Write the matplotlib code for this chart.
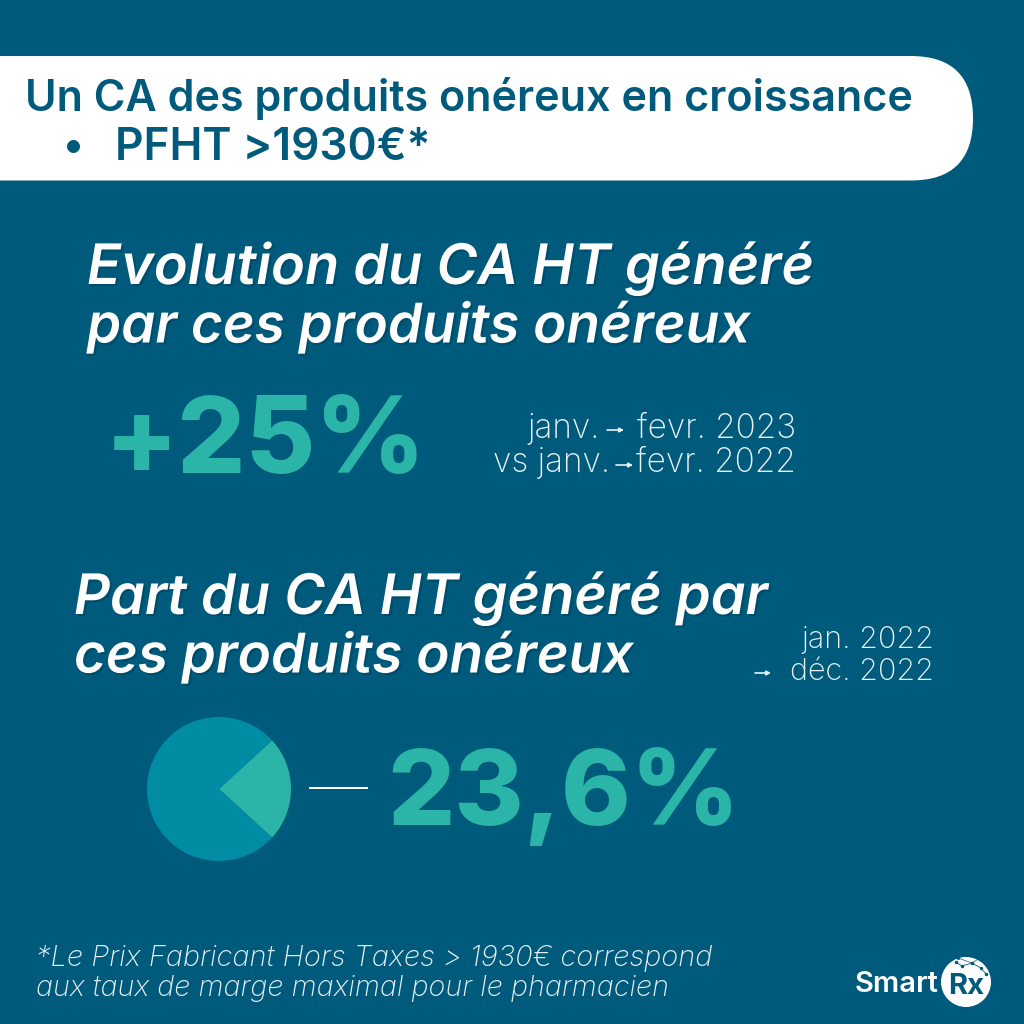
"""
Infographic card: CA des produits onereux, SmartRx
"""
import matplotlib
matplotlib.use('Agg')
import matplotlib.pyplot as plt
import matplotlib.patheffects as pe
from matplotlib.patches import FancyBboxPatch, Circle

# ── Data ─────────────────────────────────────────────────────────────────────
header_title = "Un CA des produits onéreux en croissance"
header_bullet = "PFHT >1930€*"
heading_evol = ["Evolution du CA HT généré", "par ces produits onéreux"]
heading_part = ["Part du CA HT généré par", "ces produits onéreux"]
evol_value = "+25%"
part_value = "23,6%"
pie_values = [23.6, 76.4]
footnote = ["*Le Prix Fabricant Hors Taxes > 1930€ correspond",
            "aux taux de marge maximal pour le pharmacien"]

# ── Colours ──────────────────────────────────────────────────────────────────
BG = '#005a7c'
TEAL = '#2bb5a9'
PIE_REST = '#008ca3'
LIGHT = '#e8f1f4'

plt.rcParams['font.family'] = ['Inter', 'DejaVu Sans']

fig = plt.figure(figsize=(10.24, 10.24), dpi=100, facecolor=BG)
ax = fig.add_axes([0, 0, 1, 1])
ax.set_xlim(0, 1024)
ax.set_ylim(1024, 0)
ax.axis('off')

# ── Header band ──────────────────────────────────────────────────────────────
band = FancyBboxPatch((-200, 56), 1173, 124.5, boxstyle='round,pad=0,rounding_size=62',
                      fc='white', ec='none')
ax.add_patch(band)
ax.text(25, 99, header_title, fontsize=31, fontweight='semibold', color=BG, va='center')
ax.text(63, 148, "•", fontsize=30, fontweight='semibold', color=BG, va='center')
ax.text(115, 148, header_bullet, fontsize=31.8, fontweight='semibold', color=BG, va='center')

# ── Headings ─────────────────────────────────────────────────────────────────
shadow = [pe.withSimplePatchShadow(offset=(1.5, -1.5), shadow_rgbFace='#00283c', alpha=0.25)]


def heading(x, ys, lines, sizes):
    for y, line, size in zip(ys, lines, sizes):
        ax.text(x, y, line, fontsize=size, fontweight='semibold', style='italic',
                color='white', va='center', path_effects=shadow)


heading(87, [268, 327], heading_evol, [40.2, 39.4])
heading(74, [598, 657], heading_part, [40.2, 39.4])

# ── Big numbers ──────────────────────────────────────────────────────────────
ax.text(105, 445, evol_value, fontsize=77, fontweight='heavy', color=TEAL, va='center')
ax.text(387, 797, part_value, fontsize=76, fontweight='heavy', color=TEAL, va='center')

# ── Period notes ─────────────────────────────────────────────────────────────
NOTE = dict(fontsize=24, fontweight='light', color=LIGHT, va='center')
ax.text(796, 429, "fevr. 2023", ha='right', **NOTE)
ax.text(600, 429, "janv.", ha='right', **NOTE)
ax.text(796, 463, "fevr. 2022", ha='right', **NOTE)
ax.text(610, 463, "vs janv.", ha='right', **NOTE)
ax.text(934, 640, "jan. 2022", ha='right', fontsize=22, fontweight='light', color=LIGHT, va='center')
ax.text(934, 672, "déc. 2022", ha='right', fontsize=22, fontweight='light', color=LIGHT, va='center')
for x0, x1, y in [(607, 624, 430), (616, 633, 465), (755, 771, 673)]:
    ax.annotate('', xy=(x1, y), xytext=(x0, y),
                arrowprops=dict(arrowstyle='-|>,head_width=0.13,head_length=0.25',
                                color=LIGHT, lw=1.2, shrinkA=0, shrinkB=0))

# ── Pie ──────────────────────────────────────────────────────────────────────
pie_ax = fig.add_axes([147 / 1024, 1 - 861 / 1024, 144 / 1024, 144 / 1024])
pie_ax.pie(pie_values, colors=[TEAL, PIE_REST], startangle=-pie_values[0] * 1.8, radius=1.0)
pie_ax.set_xlim(-1, 1)
pie_ax.set_ylim(-1, 1)

ax.plot([309, 368], [788, 788], color='white', lw=1.4, solid_capstyle='butt')

# ── Footnote ─────────────────────────────────────────────────────────────────
for y, line, size in zip([958, 988], footnote, [20.9, 20.7]):
    ax.text(36, y, line, fontsize=size, fontweight='light', style='italic',
            color=LIGHT, va='center')

# ── Logo ─────────────────────────────────────────────────────────────────────
ax.text(855, 985, "Smart", fontsize=21, fontweight='semibold', color='white', va='center')
ax.add_patch(Circle((966, 982), 25, fc='white', ec='none'))
ax.text(966, 987, "Rx", fontsize=21, fontweight='bold', color=BG, va='center', ha='center')
# network motif on top of the logo circle
net_x = [956, 962, 972, 981, 986]
net_y = [962, 966, 963, 968, 974]
ax.plot(net_x, net_y, color=BG, lw=0.6, marker='o', ms=1.5)
ax.plot([958, 972, 980], [958, 963, 958], color=BG, lw=0.5, marker='o', ms=1.2)

fig.savefig('out.png', dpi=100, facecolor=BG)
